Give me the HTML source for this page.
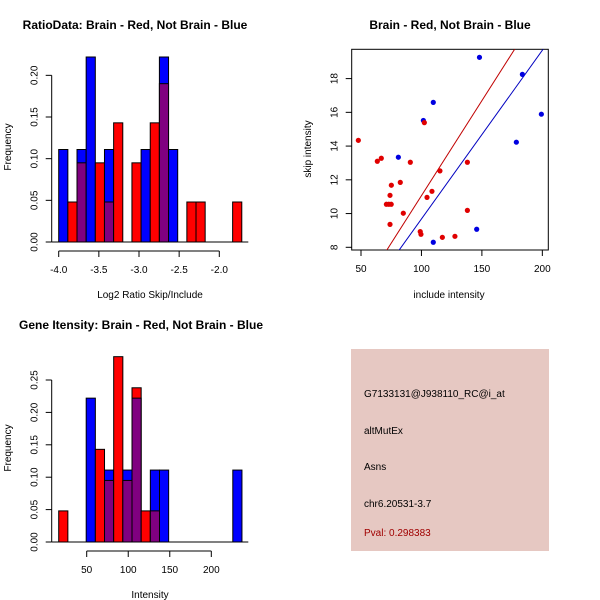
<!DOCTYPE html>
<html><head><meta charset="utf-8"><style>
html,body{margin:0;padding:0;background:#fff;}
svg{display:block;font-family:"Liberation Sans",sans-serif;}
</style></head><body>
<svg id="s" width="600" height="600" viewBox="0 0 600 600" xmlns="http://www.w3.org/2000/svg">
<rect width="600" height="600" fill="#fff"/>
<text x="135" y="29" text-anchor="middle" font-size="12" font-weight="bold">RatioData: Brain - Red, Not Brain - Blue</text>
<text x="150" y="298" text-anchor="middle" font-size="10">Log2 Ratio Skip/Include</text>
<text transform="translate(11,147) rotate(-90)" text-anchor="middle" font-size="10">Frequency</text>
<text x="450" y="29" text-anchor="middle" font-size="12" font-weight="bold">Brain - Red, Not Brain - Blue</text>
<text x="449" y="298" text-anchor="middle" font-size="10">include intensity</text>
<text transform="translate(311,149) rotate(-90)" text-anchor="middle" font-size="10">skip intensity</text>
<text x="141" y="329" text-anchor="middle" font-size="12" font-weight="bold">Gene Itensity: Brain - Red, Not Brain - Blue</text>
<text x="150" y="598" text-anchor="middle" font-size="10">Intensity</text>
<text transform="translate(11,448) rotate(-90)" text-anchor="middle" font-size="10">Frequency</text>
<rect x="351" y="349" width="198" height="202" fill="#e6c8c2"/>
<g font-size="10">
<text x="364" y="397">G7133131@J938110_RC@i_at</text>
<text x="364" y="434">altMutEx</text>
<text x="364" y="470">Asns</text>
<text x="364" y="507">chr6.20531-3.7</text>
<text x="364" y="536" fill="#a00000">Pval: 0.298383</text>
</g>
<g id="g1"></g><g id="g2"></g><g id="g3"></g>
</svg>
<script>
// Ratio histogram data (20 bins from -4.0, width 0.114)
const ratioBlue = [0.111,0,0.111,0.222,0,0.111,0,0,0,0.111,0,0.222,0.111,0,0,0,0,0,0,0];
const ratioRed  = [0,0.048,0.095,0,0.095,0.048,0.143,0,0.095,0,0.143,0.190,0,0,0.048,0.048,0,0,0,0.048];
const ratioXTicks = [-4.0,-3.5,-3.0,-2.5,-2.0];
const ratioYTicks = [0.00,0.05,0.10,0.15,0.20];
// Intensity histogram data (20 bins from 16.3, width 11.03)
const intBlue = [0,0,0,0.222,0,0.111,0,0.111,0.222,0,0.111,0.111,0,0,0,0,0,0,0,0.111];
const intRed  = [0.048,0,0,0,0.143,0.095,0.286,0.095,0.238,0.048,0.048,0,0,0,0,0,0,0,0,0];
const intXTicks = [50,100,150,200];
const intYTicks = [0.00,0.05,0.10,0.15,0.20,0.25];
// Scatter data
const blueX = [148,183.5,109.8,101.6,199.2,178.5,80.9,145.7,109.8];
const blueY = [19.26,18.25,16.59,15.52,15.89,14.23,13.34,9.07,8.30];
const redX = [47.8,102.4,63.5,66.8,90.8,138,115.3,75.1,82.5,108.7,74,104.6,71,73,75,85,138,74,99,99.6,117.3,127.7];
const redY = [14.34,15.39,13.10,13.28,13.04,13.04,12.53,11.68,11.85,11.32,11.08,10.96,10.55,10.55,10.55,10.02,10.19,9.36,8.93,8.77,8.59,8.65];
const redFit = [-0.2,0.1126];
const blueFit = [-0.32,0.1];
const scXTicks = [50,100,150,200];
const scYTicks = [8,10,12,14,16,18];

const NS="http://www.w3.org/2000/svg";
function mk(p,t,a){const e=document.createElementNS(NS,t);for(const k in a)e.setAttribute(k,a[k]);p.appendChild(e);return e;}

function hist(g,blue,red,x0,bw,xs,ys,xTicks,yTicks,prefix,xl,xr,tickFmt){
  const base=ys(0);
  for(let i=0;i<blue.length;i++){
    const a=xs(x0+i*bw),b=xs(x0+(i+1)*bw);
    const bv=blue[i],rv=red[i];
    const hi=Math.max(bv,rv),lo=Math.min(bv,rv);
    if(hi>0){
      const r=mk(g,'rect',{x:a,y:ys(hi),width:b-a,height:base-ys(hi),fill:bv>=rv?'#0000ff':'#ff0000',stroke:'#000','stroke-width':1});
      
      
    }
    if(lo>0){
      const r=mk(g,'rect',{x:a,y:ys(lo),width:b-a,height:base-ys(lo),fill:'#800080',stroke:'#000','stroke-width':1});
      
      
    }
  }
  const bl=mk(g,'line',{x1:xl,x2:xr,y1:base,y2:base,stroke:'#000'});
  
  
  const ya=mk(g,'line',{x1:xl,x2:xl,y1:ys(yTicks[0]),y2:ys(yTicks[yTicks.length-1]),stroke:'#000'});
  
  
  yTicks.forEach(v=>{const y=ys(v);mk(g,'line',{x1:xl-6,x2:xl,y1:y,y2:y,stroke:'#000'});
    const t=mk(g,'text',{transform:`translate(${xl-14},${y}) rotate(-90)`,'text-anchor':'middle','font-size':10});t.textContent=v.toFixed(2);
    
    });
  const ay=base+9;
  const xa=mk(g,'line',{x1:xs(xTicks[0]),x2:xs(xTicks[xTicks.length-1]),y1:ay,y2:ay,stroke:'#000'});
  
  
  xTicks.forEach(v=>{const x=xs(v);mk(g,'line',{x1:x,x2:x,y1:ay,y2:ay+6,stroke:'#000'});
    const t=mk(g,'text',{x:x,y:ay+22,'text-anchor':'middle','font-size':10});t.textContent=tickFmt(v);
    
    });
}

hist(document.getElementById('g1'),ratioBlue,ratioRed,-4.0,0.114,
  v=>58.7+(v+4)*80.3, v=>242-v*833.3, ratioXTicks,ratioYTicks,'ratio',51.7,248.3,v=>v.toFixed(1));
hist(document.getElementById('g3'),intBlue,intRed,16.3,11.03,
  v=>86.7+(v-50)*0.8307, v=>542-v*648, intXTicks,intYTicks,'intensity',51.7,248.3,v=>String(v));

(function(){
  const g=document.getElementById('g2');
  const xs=v=>361+(v-50)*1.2089, ys=v=>247.3-(v-8)*16.87;
  const L=351.7,R=548.3,T=49.3,B=250;
  const cp=mk(g,'clipPath',{id:'cp'});mk(cp,'rect',{x:L,y:T,width:R-L,height:B-T});
  const box=mk(g,'rect',{x:L,y:T,width:R-L,height:B-T,fill:'none',stroke:'#000'});
  
  
  const x0=(L-361)/1.2089+50,x1=(R-361)/1.2089+50;
  [[redFit,'#c00000','red-fit-line'],[blueFit,'#0000c0','blue-fit-line']].forEach(([f,c,n])=>{
    const l=mk(g,'line',{x1:xs(x0),y1:ys(f[0]+f[1]*x0),x2:xs(x1),y2:ys(f[0]+f[1]*x1),stroke:c,'clip-path':'url(#cp)'});
    
    
  });
  blueX.forEach((v,i)=>{const c=mk(g,'circle',{cx:xs(v),cy:ys(blueY[i]),r:2.6,fill:'#0000e0'});
    
    });
  redX.forEach((v,i)=>{const c=mk(g,'circle',{cx:xs(v),cy:ys(redY[i]),r:2.6,fill:'#e00000'});
    
    });
  scXTicks.forEach(v=>{const x=xs(v);mk(g,'line',{x1:x,x2:x,y1:B,y2:B+6,stroke:'#000'});
    const t=mk(g,'text',{x:x,y:B+22,'text-anchor':'middle','font-size':10});t.textContent=v;
    
    });
  scYTicks.forEach(v=>{const y=ys(v);mk(g,'line',{x1:L-6,x2:L,y1:y,y2:y,stroke:'#000'});
    const t=mk(g,'text',{transform:`translate(${L-14},${y}) rotate(-90)`,'text-anchor':'middle','font-size':10});t.textContent=v;
    
    });
})();
</script>
</body></html>
